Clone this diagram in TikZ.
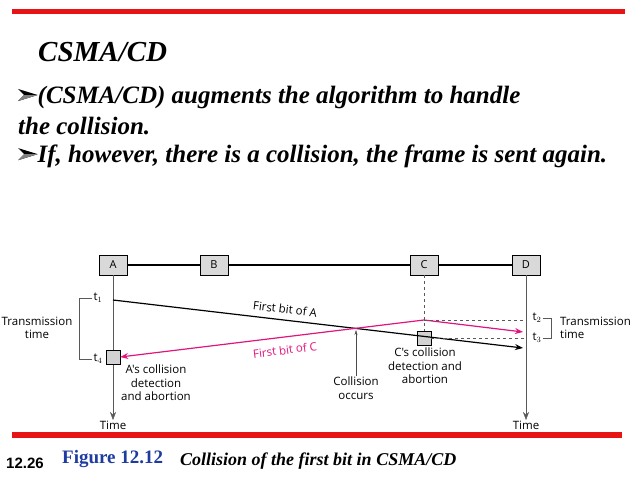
\documentclass[tikz,border=0pt]{standalone}
\usepackage{fontspec}
\setmainfont{Liberation Serif}
\newfontfamily\diag{Open Sans}
\newfontfamily\lsans{Liberation Sans}
\usetikzlibrary{arrows.meta}
\definecolor{pinkc}{RGB}{225,20,125}
\definecolor{redbar}{RGB}{230,20,20}
\definecolor{figblue}{RGB}{30,60,160}
\newcommand{\arrbul}{\tikz[baseline=-2pt,x=1.5pt,y=1.5pt]{\fill (0,8)--(13,4)--(0,0)--(4,4)--cycle; \fill[gray] (0,0)--(13,4)--(4,4)--cycle;}}
\begin{document}
\begin{tikzpicture}[x=1pt,y=-1pt,
  station/.style={draw,fill=gray!30,minimum width=28pt,minimum height=20pt,inner sep=0pt,font=\diag\fontsize{11}{13}\selectfont},
  smallbox/.style={draw,fill=gray!35,minimum size=14pt,inner sep=0pt},
  lbl/.style={font=\diag\fontsize{11.5}{13.5}\selectfont,align=center,inner sep=1pt},
  bullet/.style={font=\bfseries\itshape\fontsize{25}{29}\selectfont,anchor=west,inner sep=0pt},
  tip/.style={-{Stealth[length=8pt,width=6pt]}}]
\useasboundingbox (0,0) rectangle (638,479);
\fill[redbar] (12,9) rectangle (625,14);
\fill[redbar] (12,432) rectangle (622,438);
\node[anchor=west,inner sep=0pt,font=\bfseries\itshape\fontsize{29}{32}\selectfont] (title) at (38,52) {CSMA/CD};
\node[bullet] (b1) at (18,97) {\arrbul(CSMA/CD) augments the algorithm to handle};
\node[bullet] (b2) at (18,126) {the collision.};
\node[bullet] (b3) at (18,156) {\arrbul If, however, there is a collision, the frame is sent again.};
% stations
\node[station] (A) at (113,265) {A};
\node[station] (B) at (214,265) {B};
\node[station] (C) at (424,265) {C};
\node[station] (D) at (526,265) {D};
\draw[line width=1.3pt] (A) -- (B) -- (C) -- (D);
% time lines
\coordinate (Aend) at (113,420);
\coordinate (Dend) at (526,420);
\draw[gray!70!black,tip] (A.south) -- (Aend);
\draw[gray!70!black,tip] (D.south) -- (Dend);
\node[lbl,anchor=north] (tA) at (Aend) {Time};
\node[lbl,anchor=north] (tD) at (Dend) {Time};
% points
\coordinate (p1) at (113,300);
\coordinate (pA) at (523,348);
\coordinate (pC) at (424,320);
\coordinate (pD) at (523,332);
\node[smallbox] (boxA) at (113,357) {};
\node[smallbox] (boxC) at (424,338) {};
\draw[line width=1.2pt,tip] (p1) -- (pA);
\draw[pinkc,line width=1.2pt,tip] (pC) -- (pD);
\draw[pinkc,line width=1.2pt,tip] (pC) -- (boxA.east);
\draw[dashed,gray!70!black] (C.south) -- (boxC.north);
\coordinate (d2) at (526,320);
\coordinate (d3) at (526,338);
\draw[dashed,gray!70!black] (pC) -- (d2);
\draw[dashed,gray!70!black] (boxC.east) -- (d3);
\node[lbl,rotate=-7] (fa) at (285,309) {First bit of A};
\node[lbl,rotate=7,text=pinkc] (fc) at (285,350) {First bit of C};
% collision
\coordinate (coll) at (356,330);
\node[lbl,anchor=north] (collT) at (356,376) {Collision\\occurs};
\draw[-{Stealth[length=5pt,width=3pt]},gray!60!black] (collT.north) -- (coll);
% labels
\node[lbl,anchor=north] (Atext) at (156,364) {A's collision\\detection\\and abortion};
\node[lbl,anchor=north] (Ctext) at (425,347) {C's collision\\detection and\\abortion};
\node[lbl] (t1) at (98,298) {t$_1$};
\node[lbl] (t4) at (98,359) {t$_4$};
\node[lbl] (t2) at (537,318) {t$_2$};
\node[lbl] (t3) at (537,338) {t$_3$};
\draw[gray!70!black] (t1.west) -- ++(-13,0) |- (t4.west);
\draw[gray!70!black] (t2.east) -- ++(9,0) |- (t3.east);
\node[lbl] (ttL) at (37,328) {Transmission\\time};
\node[lbl,align=left,anchor=west] (ttR) at (559,328) {Transmission\\time};
% footer
\node[anchor=west,inner sep=0pt,font=\lsans\bfseries\fontsize{15}{17}\selectfont] (num) at (6,463) {12.26};
\node[anchor=west,inner sep=0pt,text=figblue,font=\bfseries\fontsize{19}{21}\selectfont] (fig) at (62,459) {Figure 12.12};
\node[anchor=west,inner sep=0pt,font=\bfseries\itshape\fontsize{18}{20}\selectfont] (cap) at (180,461) {Collision of the first bit in CSMA/CD};
\end{tikzpicture}
\end{document}
